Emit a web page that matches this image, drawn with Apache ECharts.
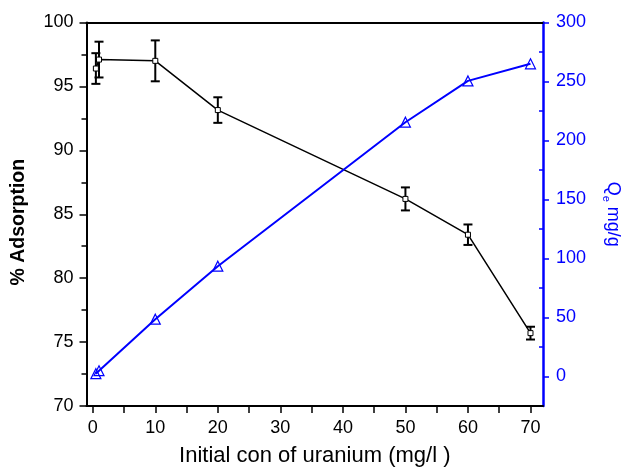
<!DOCTYPE html>
<html>
<head>
<meta charset="utf-8">
<script src="https://cdn.jsdelivr.net/npm/echarts@6/dist/echarts.min.js"></script>
<style>html,body{margin:0;padding:0;background:#fff}#c{width:625px;height:473px}</style>
</head>
<body>
<div id="c"></div>
<script>
const concentrations = [0.5, 1, 10, 20, 50, 60, 70];
const adsorption = [96.4, 97.1, 97.0, 93.15, 86.2, 83.4, 75.7];
const adsorptionErr = [1.2, 1.4, 1.6, 1.0, 0.9, 0.8, 0.5];
const qe = [2.4, 4.9, 48.6, 93.5, 215.5, 250.5, 265];
const xTicks = [0, 5, 10, 15, 20, 25, 30, 35, 40, 45, 50, 55, 60, 65, 70];
const xLabels = [0, 10, 20, 30, 40, 50, 60, 70];
const qeTicks = [0, 50, 100, 150, 200, 250, 300];
const qeMinorTicks = [25, 75, 125, 175, 225, 275];

const font = '"Liberation Sans", Arial, sans-serif';
const blue = '#0000ff';

const chart = echarts.init(document.getElementById('c'), null, {renderer: 'canvas'});
const errData = concentrations.map((c, i) => [c, adsorption[i] - adsorptionErr[i], adsorption[i] + adsorptionErr[i]]);

chart.setOption({
  animation: false,
  backgroundColor: '#fff',
  grid: {left: 86.5, right: 82, top: 22.5, bottom: 67, containLabel: false, outerBoundsMode: 'none'},
  xAxis: [{
    type: 'value', min: -1, max: 72, position: 'bottom',
    name: 'Initial con of uranium (mg/l )', nameLocation: 'middle', nameGap: 39,
    nameTextStyle: {fontFamily: font, fontSize: 22, color: '#000'},
    axisLine: {show: true, onZero: false, lineStyle: {color: '#000', width: 2}},
    axisTick: {show: true, inside: false, length: 7, customValues: xTicks, lineStyle: {color: '#000', width: 1.5}},
    axisLabel: {customValues: xLabels, margin: 13, fontFamily: font, fontSize: 18, color: '#000'},
    splitLine: {show: false}
  }, {
    type: 'value', min: -1, max: 72, position: 'top',
    axisLine: {show: true, onZero: false, lineStyle: {color: '#000', width: 2}},
    axisTick: {show: false}, axisLabel: {show: false}, splitLine: {show: false}
  }],
  yAxis: [{
    type: 'value', min: 70, max: 100, interval: 5, position: 'left',
    name: '% Adsorption', nameLocation: 'middle', nameGap: 58, nameRotate: 90,
    nameTextStyle: {fontFamily: font, fontSize: 19.5, fontWeight: 'bold', color: '#000', padding: [0, 16, 0, 0]},
    axisLine: {show: true, onZero: false, lineStyle: {color: '#000', width: 2}},
    axisTick: {show: true, inside: false, length: 7, lineStyle: {color: '#000', width: 1.5}},
    minorTick: {show: true, splitNumber: 2, length: 5, lineStyle: {color: '#000', width: 1.5}},
    axisLabel: {margin: 13, fontFamily: font, fontSize: 18, color: '#000'},
    splitLine: {show: false}
  }, {
    type: 'value', min: -25, max: 300, position: 'right',
    name: '{q|Q}{e|e}{t| mg/g}', nameLocation: 'middle', nameGap: 58, nameRotate: -90,
    nameTextStyle: {fontFamily: font, fontSize: 18, color: blue,
      rich: {
        q: {fontFamily: font, fontSize: 18, color: blue},
        e: {fontFamily: font, fontSize: 11, color: blue, padding: [13, 0, 0, 0]},
        t: {fontFamily: font, fontSize: 18, color: blue}
      }},
    axisLine: {show: true, onZero: false, lineStyle: {color: blue, width: 2.5}},
    axisTick: {show: true, inside: false, length: 6, customValues: qeTicks, lineStyle: {color: blue, width: 1.5}},
    axisLabel: {customValues: qeTicks, margin: 13, fontFamily: font, fontSize: 18, color: blue},
    splitLine: {show: false}
  }],
  series: [{
    type: 'line', xAxisIndex: 0, yAxisIndex: 0,
    data: concentrations.map((c, i) => [c, adsorption[i]]),
    symbol: 'rect', symbolSize: 5, showAllSymbol: true,
    lineStyle: {color: '#000', width: 1.5},
    itemStyle: {color: '#fff', borderColor: '#000', borderWidth: 1},
    z: 3
  }, {
    type: 'custom', xAxisIndex: 0, yAxisIndex: 0,
    data: errData,
    renderItem: function (params, api) {
      const x = api.value(0);
      const lo = api.coord([x, api.value(1)]);
      const hi = api.coord([x, api.value(2)]);
      const w = 4.5;
      const style = {stroke: '#000', lineWidth: 2};
      return {type: 'group', children: [
        {type: 'line', shape: {x1: lo[0], y1: lo[1], x2: hi[0], y2: hi[1]}, style: style},
        {type: 'line', shape: {x1: lo[0] - w, y1: lo[1], x2: lo[0] + w, y2: lo[1]}, style: style},
        {type: 'line', shape: {x1: hi[0] - w, y1: hi[1], x2: hi[0] + w, y2: hi[1]}, style: style}
      ]};
    },
    z: 2
  }, {
    type: 'custom', xAxisIndex: 0, yAxisIndex: 1,
    data: qeMinorTicks.map(v => [0, v]),
    silent: true,
    renderItem: function (params, api) {
      const cs = params.coordSys;
      const xr = cs.x + cs.width;
      const y = api.coord([0, api.value(1)])[1];
      return {type: 'line', shape: {x1: xr - 4, y1: y, x2: xr, y2: y}, style: {stroke: blue, lineWidth: 1.5}};
    },
    z: 4
  }, {
    type: 'line', xAxisIndex: 0, yAxisIndex: 1,
    data: concentrations.map((c, i) => [c, qe[i]]),
    symbol: 'triangle', symbolSize: 10, showAllSymbol: true,
    lineStyle: {color: blue, width: 2},
    itemStyle: {color: 'rgba(255,255,255,0)', borderColor: blue, borderWidth: 1.2},
    z: 3
  }]
});
</script>
</body>
</html>
